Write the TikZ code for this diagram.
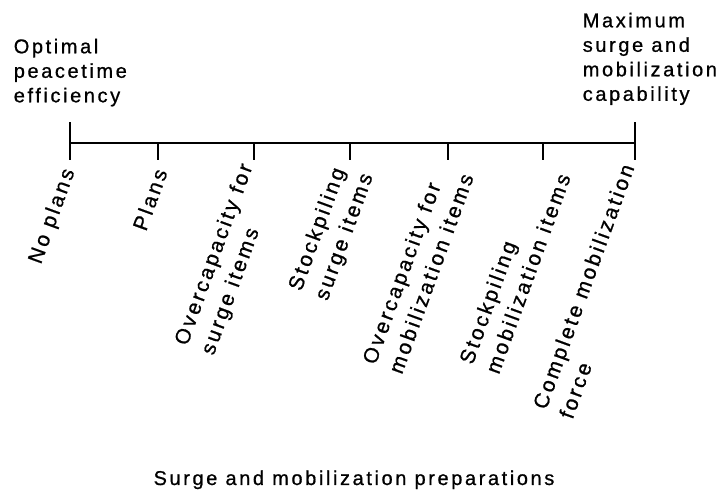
\documentclass[tikz,border=0pt]{standalone}
\usepackage{fontspec}
\setmainfont[LetterSpace=13, FakeBold=0.8]{Liberation Sans}
\usetikzlibrary{positioning}

\begin{document}
\begin{tikzpicture}[x=0.5pt, y=0.5pt, line width=0.8pt,
    every node/.style={inner sep=0pt, font=\fontsize{10}{12.25}\selectfont},
    endnote/.style={anchor=north west, align=left},
    stage/.style={anchor=east, align=left, rotate=70, font=\fontsize{10.5}{14}\selectfont}]
\useasboundingbox (0,0) rectangle (719,493);
% the scale with its ticks
\coordinate (lo) at (70,350);
\coordinate (hi) at (635,350);
\draw (lo) -- (hi);
\foreach \x [count=\i] in {70,158,254,350,448,543,635}
  \draw (\x,350) -- (\x,333) coordinate (t\i);
\draw (lo) -- ++(0,21);
\draw (hi) -- ++(0,21);
% both ends
\node[endnote] (peace) at (13,455) {Optimal\\peacetime\\efficiency};
\node[endnote] (surge) at (582,481) {Maximum\\surge and\\mobilization\\capability};
% stages along the scale
\node[stage] (noplans) at ([xshift=0pt,yshift=-4.5pt]t1) {No plans};
\node[stage] (plans) at ([xshift=1.5pt,yshift=-4.5pt]t2) {Plans};
\node[stage] (overcap) at ([xshift=3.5pt,yshift=-4.5pt]t3) {Overcapacity for\\surge items};
\node[stage] (stock) at ([xshift=2.5pt,yshift=-4.5pt]t4) {Stockpiling\\surge items};
\node[stage] (overmob) at ([xshift=3pt,yshift=-4.5pt]t5) {Overcapacity for\\mobilization items};
\node[stage] (stockmob) at ([xshift=4pt,yshift=-4.5pt]t6) {Stockpiling\\mobilization items};
\node[stage] (complete) at ([xshift=3pt,yshift=-4.5pt]t7) {Complete mobilization\\force};
% caption
\node[anchor=base] (prep) at (354,8) {Surge and mobilization preparations};
\end{tikzpicture}
\end{document}
